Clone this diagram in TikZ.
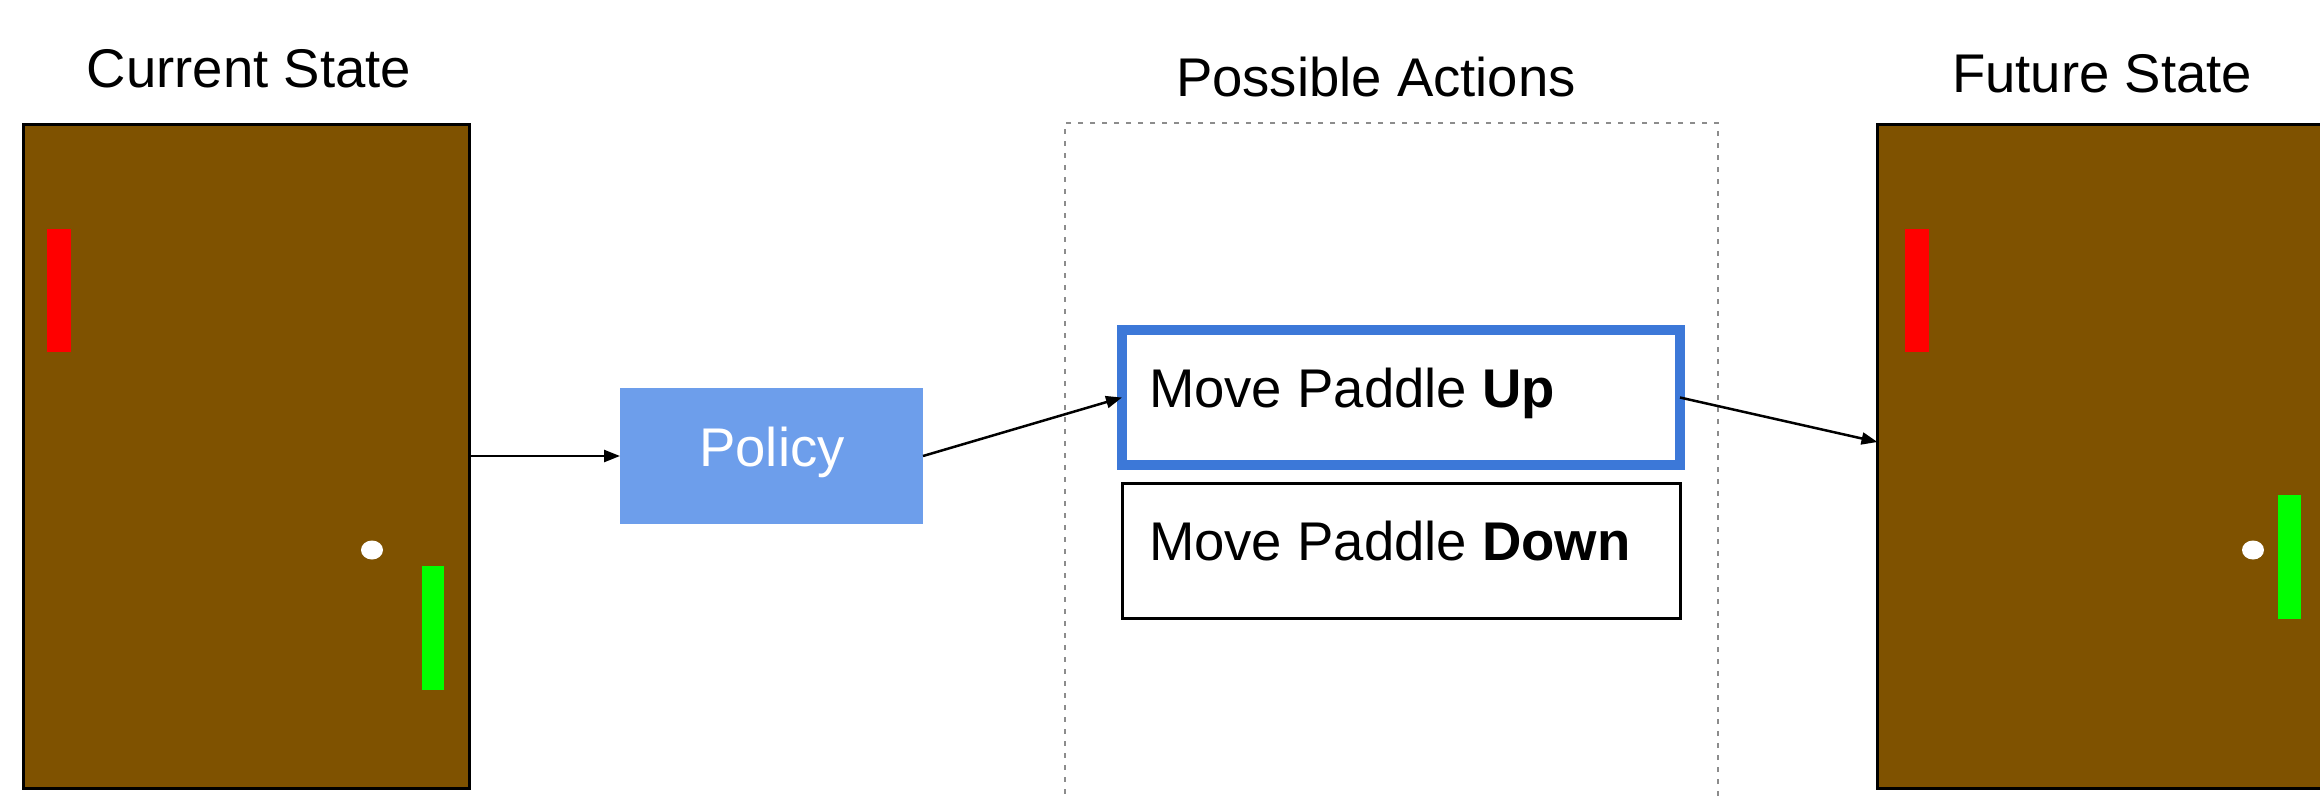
\documentclass[tikz,border=0pt]{standalone}
\usepackage{fontspec}
\setmainfont{Liberation Sans}
\usetikzlibrary{arrows.meta}

\definecolor{courtbrown}{HTML}{7F5200}
\definecolor{policyblue}{HTML}{6D9EEB}
\definecolor{pickblue}{HTML}{3C78D8}
\definecolor{framegray}{HTML}{8C8C8C}

\tikzset{
  every node/.style={inner sep=0pt, outer sep=0pt},
  label text/.style={font=\fontsize{27.25pt}{32pt}\selectfont, text=black},
  courtbox/.style={draw=black, line width=1.5pt, fill=courtbrown, anchor=north west,
    minimum width=223pt, minimum height=332pt},
  policybox/.style={fill=policyblue, anchor=north west, minimum width=151.5pt,
    minimum height=68pt, font=\fontsize{27.25pt}{32pt}\selectfont, text=white},
  chosenbox/.style={draw=pickblue, line width=5pt, fill=white, anchor=north west,
    minimum width=279pt, minimum height=67.5pt},
  optionbox/.style={draw=black, line width=1.5pt, fill=white, anchor=north west,
    minimum width=279pt, minimum height=67.5pt},
  actionframe/.style={draw=framegray, line width=1pt, dash pattern=on 2.5pt off 3.5pt,
    anchor=north west, minimum width=326.5pt, minimum height=400pt},
  flow/.style={draw=black, line width=1.25pt, -{Triangle[length=8pt,width=6pt]}},
  redpaddle/.style={fill=red},
  greenpaddle/.style={fill=green},
  ball/.style={fill=white},
}

\begin{document}
\begin{tikzpicture}[x=0.5pt, y=-0.5pt]
  \useasboundingbox (0,0) rectangle (2320,800);
  \clip (0,0) rectangle (2320,800);

  % titles
  \node[label text, anchor=base] (tcur) at (249,87) {Current State};
  \node[label text, anchor=base] (tact) at (1376,96) {Possible Actions};
  \node[label text, anchor=base] (tfut) at (2102,92) {Future State};

  % current game court
  \node[courtbox] (cur) at (23.5,124.5) {};
  \fill[redpaddle] (47,229) rectangle (71,352);
  \fill[greenpaddle] (422,566) rectangle (444,690);
  \fill[ball] (372,550) ellipse [x radius=5.5pt, y radius=4.75pt];

  % future game court
  \node[courtbox] (fut) at (1877.5,124.5) {};
  \fill[redpaddle] (1905,229) rectangle (1929,352);
  \fill[greenpaddle] (2278,495) rectangle (2301,619);
  \fill[ball] (2253,550) ellipse [x radius=5.5pt, y radius=4.75pt];

  % policy
  \node[policybox] (policy) at (620,388) {};
  \node[font=\fontsize{27.25pt}{32pt}\selectfont, text=white, anchor=base] (policytxt) at (772,466) {Policy};

  % action set
  \node[actionframe] (actions) at (1065,123) {};
  \node[chosenbox] (up) at (1122,330) {};
  \node[label text, anchor=base west] (uptxt) at (1149,407) {Move Paddle \textbf{Up}};
  \node[optionbox] (down) at (1122,483) {};
  \node[label text, anchor=base west] (downtxt) at (1149,560) {Move Paddle \textbf{Down}};

  % connectors
  \draw[flow] (cur.east |- policy.west) -- (policy.west);
  \draw[flow] (policy.east) -- (up.west);
  \draw[flow] (up.east) -- ([yshift=7.25pt]fut.west);
\end{tikzpicture}
\end{document}
